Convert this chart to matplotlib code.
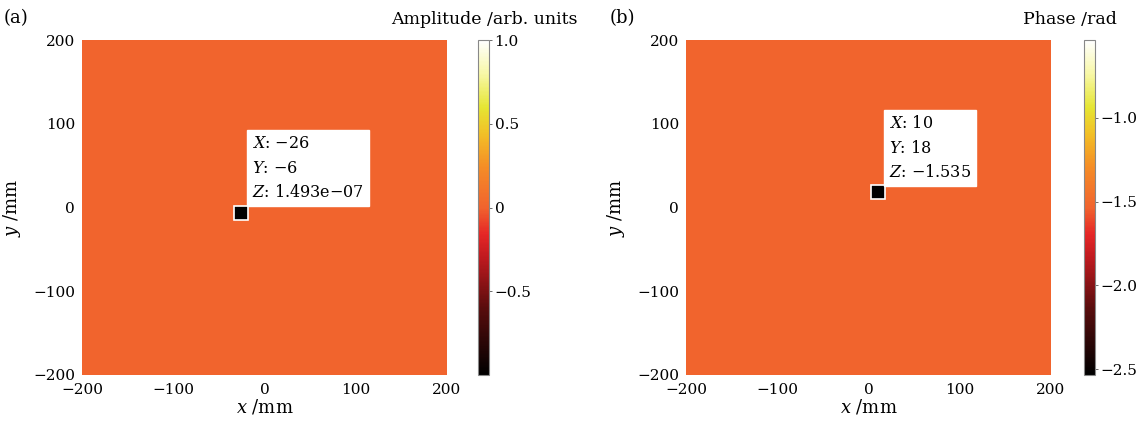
import numpy as np
import matplotlib
matplotlib.use("Agg")
import matplotlib.pyplot as plt
from matplotlib.colors import LinearSegmentedColormap

plt.rcParams['font.family'] = ['DejaVu Serif']
plt.rcParams['mathtext.fontset'] = 'dejavuserif'
plt.rcParams['font.size'] = 11

# data
extent_mm = [-200, 200]
amp_value = 1.493e-07
phase_value = -1.535
amp_range = [-1.0, 1.0]
phase_range = [-2.535, -0.535]
amp_ticks = [-0.5, 0, 0.5, 1.0]
amp_ticklabels = ["\u22120.5", "0", "0.5", "1.0"]
phase_ticks = [-2.5, -2.0, -1.5, -1.0]
phase_ticklabels = ["\u22122.5", "\u22122.0", "\u22121.5", "\u22121.0"]
axis_ticks = [-200, -100, 0, 100, 200]
axis_ticklabels = ["\u2212200", "\u2212100", "0", "100", "200"]
amp_tip = (-26, -6)
phase_tip = (10, 18)
amp_tip_text = "$X$: \u221226\n$Y$: \u22126\n$Z$: 1.493e\u221207"
phase_tip_text = "$X$: 10\n$Y$: 18\n$Z$: \u22121.535"

cmap = LinearSegmentedColormap.from_list("fieldmap", [
    (0.0, (0, 0, 0)),
    (0.2, (0.35, 0.05, 0.05)),
    (0.35, (0.75, 0.1, 0.12)),
    (0.42, (0.9, 0.15, 0.15)),
    (0.5, (0.945, 0.39, 0.18)),
    (0.62, (0.96, 0.55, 0.15)),
    (0.72, (0.95, 0.75, 0.15)),
    (0.8, (0.9, 0.9, 0.2)),
    (0.9, (0.97, 0.97, 0.65)),
    (1.0, (1, 1, 1)),
])

fig = plt.figure(figsize=(11.47, 4.22), dpi=100)
W, H = 1147, 422

def px_axes(x0, y0, x1, y1):
    return fig.add_axes([x0 / W, 1 - y1 / H, (x1 - x0) / W, (y1 - y0) / H])

panels = [
    (amp_value, amp_range, amp_ticks, amp_ticklabels, amp_tip, amp_tip_text,
     (82, 40, 447, 375), (478, 40, 489, 375), "Amplitude /arb. units", 484, "(a)", 4),
    (phase_value, phase_range, phase_ticks, phase_ticklabels, phase_tip, phase_tip_text,
     (686, 40, 1051, 375), (1084, 40, 1095, 375), "Phase /rad", 1070, "(b)", 610),
]

for (val, vr, cticks, clabels, tip, tiptext, abox, cbox, clabel, clx, tag, tagx) in panels:
    ax = px_axes(*abox)
    field = np.full((50, 50), val)
    im = ax.imshow(field, cmap=cmap, vmin=vr[0], vmax=vr[1], origin='lower',
                   extent=extent_mm + extent_mm, aspect='auto', interpolation='nearest')
    ax.set_xticks(axis_ticks)
    ax.set_xticklabels(axis_ticklabels)
    ax.set_yticks(axis_ticks)
    ax.set_yticklabels(axis_ticklabels)
    ax.tick_params(axis='y', length=0, pad=5)
    ax.tick_params(axis='x', length=0, pad=6)
    for s in ax.spines.values():
        s.set_visible(False)
    ax.set_xlabel("$x$ /mm", labelpad=0, fontsize=13)
    ax.set_ylabel("$y$ /mm", labelpad=7, fontsize=13)
    ax.plot(tip[0], tip[1], 's', ms=10, mfc='black', mec='white', mew=1.2)
    ax.annotate(tiptext, xy=tip, xytext=(8, 8), textcoords='offset points',
                ha='left', va='bottom', linespacing=1.6, fontsize=11.5,
                bbox=dict(boxstyle='square,pad=0.3', fc='white', ec='white'))

    cax = px_axes(*cbox)
    cb = fig.colorbar(im, cax=cax)
    cb.set_ticks(cticks)
    cb.set_ticklabels(clabels)
    cb.outline.set_edgecolor('#888888')
    cb.outline.set_linewidth(0.8)
    cax.tick_params(length=2, width=0.6, pad=2, color='#555555')
    fig.text(clx / W, 1 - 20 / H, clabel, ha='center', va='center', fontsize=12.5)
    fig.text(tagx / W, 1 - 18 / H, tag, ha='left', va='center', fontsize=13)

fig.savefig("out.png", dpi=100)
